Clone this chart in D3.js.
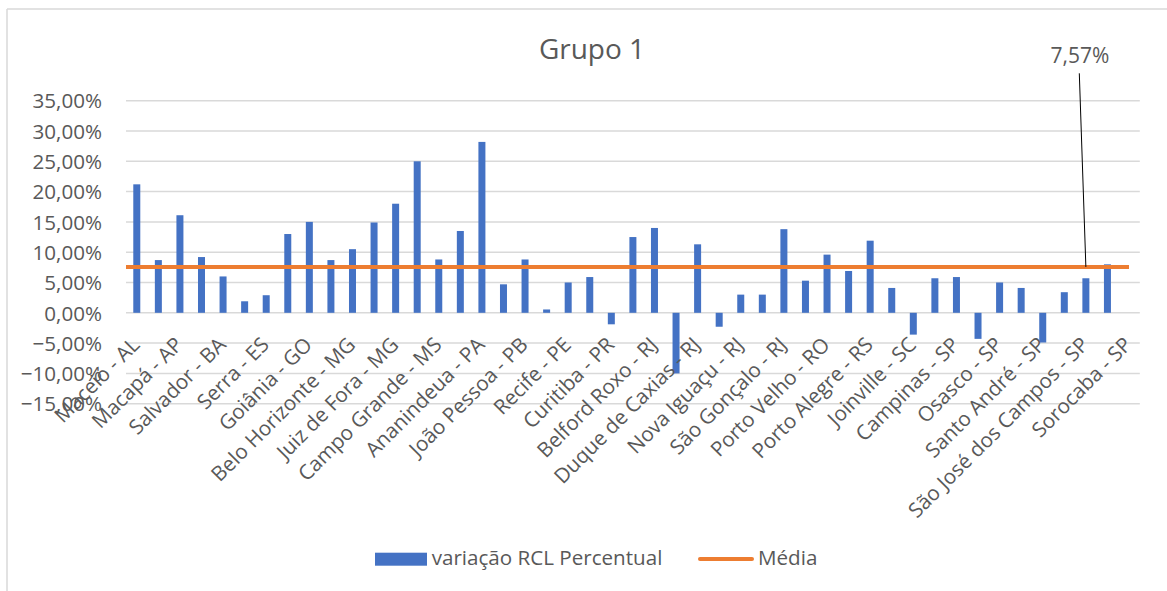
<!DOCTYPE html>
<html><head><meta charset="utf-8">
<script src="https://cdn.jsdelivr.net/npm/d3@7"></script>
<style>
html,body{margin:0;padding:0;background:#fff;}
text{font-family:"Open Sans","Noto Sans",sans-serif;fill:#595959;}
</style></head>
<body>
<svg id="c" width="1167" height="591"></svg>
<script>
// Visible category labels (Excel shows every other category)
const labels = ["Maceió - AL","Macapá - AP","Salvador - BA","Serra - ES","Goiânia - GO","Belo Horizonte - MG","Juiz de Fora - MG","Campo Grande - MS","Ananindeua - PA","João Pessoa - PB","Recife - PE","Curitiba - PR","Belford Roxo - RJ","Duque de Caxias - RJ","Nova Iguaçu - RJ","São Gonçalo - RJ","Porto Velho - RO","Porto Alegre - RS","Joinville - SC","Campinas - SP","Osasco - SP","Santo André - SP","São José dos Campos - SP","Sorocaba - SP"];
// variação RCL Percentual (%) for all 47 categories (last one empty)
const values = [21.2,8.7,16.1,9.2,6.0,1.9,2.9,13.0,15.0,8.7,10.5,14.9,18.0,25.0,8.8,13.5,28.2,4.7,8.8,0.55,5.0,5.9,-1.9,12.5,14.0,-10.0,11.3,-2.3,3.0,3.0,13.8,5.3,9.6,6.9,11.9,4.1,-3.6,5.7,5.9,-4.3,5.0,4.1,-4.9,3.4,5.7,8.0,null];
const media = 7.57;
const yTicks = [-15,-10,-5,0,5,10,15,20,25,30,35];
const title = "Grupo 1";
const seriesNames = ["variação RCL Percentual","Média"];

const svg = d3.select("#c");
const blue = "#4472C4", orange = "#ED7D31", grid = "#d9d9d9";
const fs = "20.6px";

// frame
svg.append("line").attr("x1",7).attr("x2",7).attr("y1",9).attr("y2",591).attr("stroke",grid).attr("stroke-width",1.5);
svg.append("line").attr("x1",7).attr("x2",1167).attr("y1",9).attr("y2",9).attr("stroke",grid).attr("stroke-width",1.5);

const x = d3.scaleBand().domain(d3.range(values.length)).range([126,1139.8]).padding(0);
const y = d3.scaleLinear().domain([-15,35]).range([403.7,100.7]);

// gridlines
svg.append("g").selectAll("line").data(yTicks).join("line")
  .attr("x1",x.range()[0]).attr("x2",x.range()[1])
  .attr("y1",d=>y(d)).attr("y2",d=>y(d))
  .attr("stroke",grid).attr("stroke-width",1.5);

// y axis labels
const fmt = d => d3.format(".2f")(d).replace(".",",") + "%";
const yAxis = d3.axisLeft(y).tickValues(yTicks).tickFormat(fmt).tickSize(0).tickPadding(0);
const yg = svg.append("g").attr("transform","translate(102,0)").call(yAxis);
yg.select(".domain").remove();
yg.selectAll("text").attr("font-size",fs).attr("fill","#595959").attr("dy","0.35em").attr("font-family",null);

// bars
const bw = 7;
svg.append("g").selectAll("rect").data(values.map((v,i)=>({v,i})).filter(d=>d.v!==null)).join("rect")
  .attr("x",d=>x(d.i)+x.bandwidth()/2-bw/2)
  .attr("width",bw)
  .attr("y",d=>y(Math.max(0,d.v)))
  .attr("height",d=>Math.abs(y(d.v)-y(0)))
  .attr("fill",blue);

// x labels
const xg = svg.append("g");
labels.forEach((lab,k)=>{
  const i = k*2;
  const cx = x(i)+x.bandwidth()/2;
  xg.append("text").attr("transform",`translate(${cx-1},${341}) rotate(-45)`)
    .attr("text-anchor","end").attr("dy","0.35em").attr("font-size",fs).text(lab);
});

// media line
const pts = values.map((v,i)=>[i===0?x.range()[0]:x(i)+x.bandwidth()/2, y(media)]);
svg.append("path").attr("d",d3.line()(pts)).attr("fill","none").attr("stroke",orange).attr("stroke-width",4);

// data label for media
const lx = x(44)+x.bandwidth()/2;
svg.append("line").attr("x1",1079.3).attr("y1",73.3).attr("x2",lx).attr("y2",y(media)).attr("stroke","#000").attr("stroke-width",1);
svg.append("text").attr("x",1080).attr("y",63).attr("text-anchor","middle").attr("font-size","21px").attr("fill","#404040").text(fmt(media));

// title
svg.append("text").attr("x",592).attr("y",59).attr("text-anchor","middle").attr("font-size","28px").text(title);

// legend
svg.append("rect").attr("x",375).attr("y",552.7).attr("width",52).attr("height",13).attr("fill",blue);
svg.append("text").attr("x",431.7).attr("y",565).attr("font-size",fs).text(seriesNames[0]);
svg.append("line").attr("x1",700).attr("x2",752).attr("y1",559).attr("y2",559).attr("stroke",orange).attr("stroke-width",4).attr("stroke-linecap","round");
svg.append("text").attr("x",758).attr("y",565).attr("font-size",fs).text(seriesNames[1]);
</script>
</body></html>
